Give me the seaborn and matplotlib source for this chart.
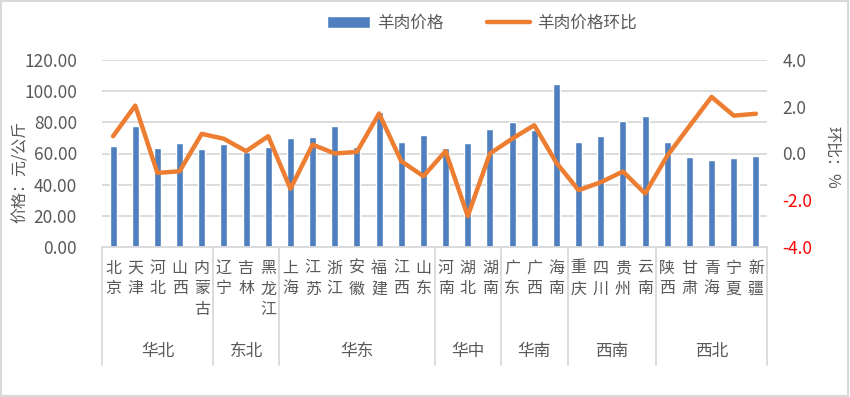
import numpy as np
import pandas as pd
import seaborn as sns
import matplotlib.pyplot as plt
import matplotlib.transforms as mtransforms
from matplotlib.patches import Rectangle

# data
provinces = ["北京", "天津", "河北", "山西", "内蒙古",
             "辽宁", "吉林", "黑龙江",
             "上海", "江苏", "浙江", "安徽", "福建", "江西", "山东",
             "河南", "湖北", "湖南",
             "广东", "广西", "海南",
             "重庆", "四川", "贵州", "云南",
             "陕西", "甘肃", "青海", "宁夏", "新疆"]
regions = ["华北", "东北", "华东", "华中", "华南", "西南", "西北"]
region_sizes = [5, 3, 7, 3, 3, 4, 5]
price = [64.7, 77.6, 63.4, 66.6, 62.8,
         66.0, 61.0, 64.1,
         69.9, 70.5, 77.6, 64.1, 86.6, 67.3, 71.8,
         63.4, 66.6, 75.6,
         80.1, 75.0, 104.5,
         67.3, 71.1, 80.8, 84.0,
         67.3, 57.6, 55.7, 57.0, 58.3]
mom = [0.74, 2.05, -0.83, -0.76, 0.84,
       0.63, 0.10, 0.74,
       -1.51, 0.38, 0.0, 0.07, 1.71, -0.33, -0.97,
       0.10, -2.68, 0.0,
       0.63, 1.21, -0.40,
       -1.57, -1.23, -0.77, -1.71,
       -0.10, 1.17, 2.42, 1.62, 1.70]

left_ticks = [0, 20, 40, 60, 80, 100, 120]
right_ticks = [-4, -2, 0, 2, 4]

BLUE = "#4F7FBE"
ORANGE = "#ED7D31"
GRID = "#D9D9D9"
TXT = "#595959"

df = pd.DataFrame({"省份": provinces, "价格": price, "环比": mom})
df["pos"] = np.arange(len(df))

sns.set_theme(style="white")
plt.rcParams["font.family"] = ["Noto Sans CJK SC", "DejaVu Sans"]
plt.rcParams["axes.unicode_minus"] = False

W, H = 850, 397
fig = plt.figure(figsize=(W / 100, H / 100), dpi=100)
x0, x1, y0, y1 = 102, 767, 247, 60
ax = fig.add_axes([x0 / W, 1 - y0 / H, (x1 - x0) / W, (y0 - y1) / H])
ax2 = ax.twinx()

sns.barplot(data=df, x="省份", y="价格", color=BLUE, width=0.32,
            saturation=1, ax=ax, zorder=2)
sns.lineplot(data=df, x="pos", y="环比", color=ORANGE, lw=3.2, ax=ax2,
             zorder=3)

n = len(provinces)
ax.set_xlim(-0.5, n - 0.5)
ax.set_ylim(0, 120)
ax.set_yticks(left_ticks)
ax.set_yticklabels([f"{v:.2f}" for v in left_ticks])
ax2.set_ylim(-4, 4)
ax2.set_yticks(right_ticks)
ax2.set_yticklabels([f"{v:.1f}" for v in right_ticks])
for lab, v in zip(ax2.get_yticklabels(), right_ticks):
    lab.set_color("#FF0000" if v < 0 else TXT)

ax.yaxis.grid(True, color=GRID, lw=1.3, zorder=0)
ax.set_axisbelow(True)
for a in (ax, ax2):
    for s in a.spines.values():
        s.set_visible(False)
ax.spines["bottom"].set_visible(True)
ax.spines["bottom"].set_color(GRID)
ax.spines["bottom"].set_linewidth(1.3)

ax.tick_params(axis="y", length=0, pad=18, labelsize=12.5, labelcolor=TXT)
ax2.tick_params(axis="y", length=0, pad=11, labelsize=12.5)
ax.set_xticks(df["pos"])
ax.set_xticklabels(["\n".join(p) for p in provinces], fontsize=11.5,
                   color=TXT, va="top", linespacing=1.3)
ax.tick_params(axis="x", length=0, pad=9)

ax.set_xlabel("")
ax.set_ylabel("价格：元/公斤", fontsize=11.5, color=TXT)
ax.yaxis.set_label_coords(-0.11, 0.40)
ax2.set_xlabel("")
ax2.set_ylabel("环比：%", fontsize=11.5, color=TXT, rotation=270,
               va="bottom")
ax2.yaxis.set_label_coords(1.085, 0.48)

# multi-level category axis: separators and region labels
trans = mtransforms.blended_transform_factory(ax.transData, ax.transAxes)
bounds = np.concatenate([[0], np.cumsum(region_sizes)]) - 0.5
for b in bounds:
    ax.plot([b, b], [0, -0.63], transform=trans, color=GRID, lw=1.3,
            clip_on=False)
for name, lo, hi in zip(regions, bounds[:-1], bounds[1:]):
    ax.text((lo + hi) / 2, -0.56, name, transform=trans, ha="center",
            va="center", fontsize=12, color=TXT)

# legend
fig.legend([ax.patches[0], ax2.lines[0]], ["羊肉价格", "羊肉价格环比"],
           loc="center", bbox_to_anchor=(0.567, 0.942), ncol=2, frameon=False,
           fontsize=12, labelcolor=TXT, handlelength=2.6, columnspacing=2.6,
           handletextpad=0.4)

fig.patches.append(Rectangle((0.001, 0.002), 0.997, 0.995,
                             transform=fig.transFigure, fill=False,
                             edgecolor=GRID, lw=1.5))

fig.savefig("out.png", dpi=100)
